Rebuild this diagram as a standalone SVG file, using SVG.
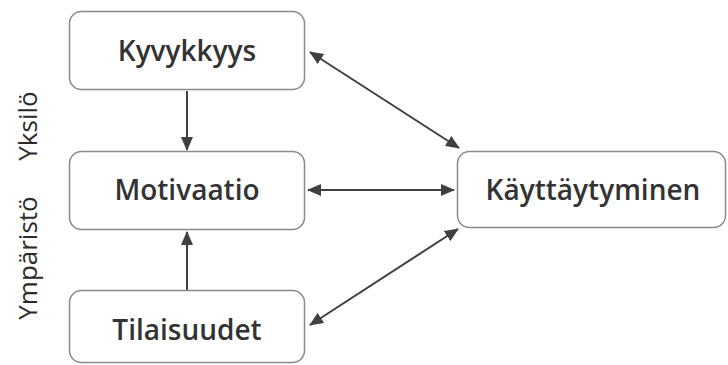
<svg xmlns="http://www.w3.org/2000/svg" width="728" height="365" viewBox="0 0 728 365">
<defs>
<marker id="ah" viewBox="0 0 14 12" refX="13" refY="6" markerWidth="14" markerHeight="12" markerUnits="userSpaceOnUse" orient="auto-start-reverse">
<path d="M0,0 L14,6 L0,12 z" fill="#404040"/>
</marker>
<style>
.box{fill:#fff;stroke:#8a8a8a;stroke-width:1.5}
.lbl{font-family:"Open Sans","Noto Sans",sans-serif;font-size:28px;font-weight:600;fill:#333;text-anchor:middle}
.side{font-family:"Open Sans","Noto Sans",sans-serif;font-size:26px;fill:#2b2b2b;text-anchor:middle}
.con{stroke:#404040;stroke-width:2;fill:none}
</style>
</defs>
<rect width="728" height="365" fill="#fff"/>
<g id="side-labels">
<text class="side" transform="translate(37,126) rotate(-90)">Yksilö</text>
<text class="side" transform="translate(37,258) rotate(-90)">Ympäristö</text>
</g>
<g id="connectors">
<line class="con" x1="187" y1="91" x2="187" y2="150" marker-end="url(#ah)"/>
<line class="con" x1="187" y1="290" x2="187" y2="232" marker-end="url(#ah)"/>
<line class="con" x1="310" y1="52" x2="459" y2="148" marker-start="url(#ah)" marker-end="url(#ah)"/>
<line class="con" x1="308" y1="190" x2="454" y2="190" marker-start="url(#ah)" marker-end="url(#ah)"/>
<line class="con" x1="310" y1="325" x2="458" y2="229" marker-start="url(#ah)" marker-end="url(#ah)"/>
</g>
<g id="kyvykkyys">
<rect class="box" x="69.5" y="11.5" width="235" height="78" rx="12"/>
<text class="lbl" x="187" y="61">Kyvykkyys</text>
</g>
<g id="motivaatio">
<rect class="box" x="69.5" y="151.5" width="235" height="78" rx="12"/>
<text class="lbl" x="187" y="200">Motivaatio</text>
</g>
<g id="tilaisuudet">
<rect class="box" x="69.5" y="290.5" width="235" height="72" rx="12"/>
<text class="lbl" x="187" y="340">Tilaisuudet</text>
</g>
<g id="kayttaytyminen">
<rect class="box" x="457.5" y="151.5" width="268" height="76" rx="12"/>
<text class="lbl" x="593" y="200">Käyttäytyminen</text>
</g>
</svg>
